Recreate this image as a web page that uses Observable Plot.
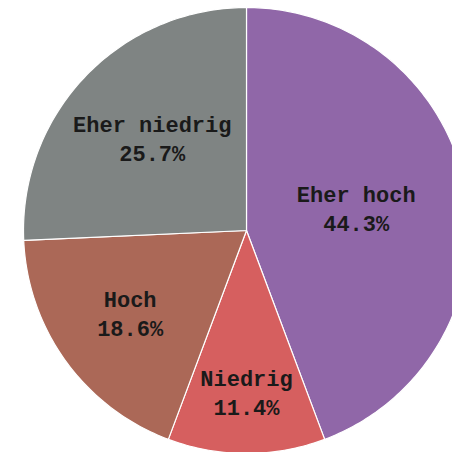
<!DOCTYPE html>
<html>
<head>
<meta charset="utf-8">
<script src="https://cdn.jsdelivr.net/npm/d3@7"></script>
<script src="https://cdn.jsdelivr.net/npm/@observablehq/plot@0.6"></script>
<style>
  html, body { margin: 0; padding: 0; background: #fff; }
  #chart { width: 452px; height: 452px; overflow: hidden; }
</style>
</head>
<body>
<div id="chart"></div>
<script>
// Data
const categories = ["Eher hoch", "Niedrig", "Hoch", "Eher niedrig"];
const percents = [44.3, 11.4, 18.6, 25.7];
const colors = ["#9067a8", "#d65f5f", "#ab6857", "#7f8483"];

// Layout (not data)
const W = 452, H = 452;
const cx = 246, cy = 230, R = 223;
const labelRadius = [0.50, 0.735, 0.645, 0.585];

const pie = d3.pie().sort(null).value(d => d.value).startAngle(0).endAngle(2 * Math.PI);
const arcs = pie(categories.map((c, i) => ({ name: c, value: percents[i] })));

// Build slice outlines (unit circle, y pointing down)
const slicePts = [];
arcs.forEach(a => {
  const n = Math.max(8, Math.ceil((a.endAngle - a.startAngle) / (Math.PI / 180)));
  slicePts.push({ name: a.data.name, x: 0, y: 0 });
  for (let k = 0; k <= n; k++) {
    const t = a.startAngle + (a.endAngle - a.startAngle) * k / n;
    slicePts.push({ name: a.data.name, x: Math.sin(t), y: -Math.cos(t) });
  }
  slicePts.push({ name: a.data.name, x: 0, y: 0 });
});

const labels = arcs.map((a, i) => {
  const m = (a.startAngle + a.endAngle) / 2;
  const r = labelRadius[i];
  return {
    name: a.data.name,
    x: r * Math.sin(m),
    y: -r * Math.cos(m),
    text: `${a.data.name}\n${percents[i].toFixed(1)}%`
  };
});

const chart = Plot.plot({
  width: W,
  height: H,
  margin: 0,
  x: { domain: [-cx / R, (W - cx) / R], range: [0, W], axis: null },
  y: { domain: [-cy / R, (H - cy) / R], range: [0, H], axis: null },
  color: { domain: categories, range: colors },
  style: { background: "#fff" },
  marks: [
    Plot.line(slicePts, {
      x: "x", y: "y", z: "name", fill: "name",
      stroke: "#ffffff", strokeWidth: 1.2, strokeLinejoin: "round", curve: "linear"
    }),
    Plot.text(labels, {
      x: "x", y: "y", text: "text", dy: -3,
      fontFamily: "'Liberation Mono', 'Courier New', monospace",
      fontWeight: "bold", fontSize: 22, lineHeight: 1.32,
      fill: "#1a1a1a", textAnchor: "middle"
    })
  ]
});
document.getElementById("chart").appendChild(chart);
</script>
</body>
</html>
